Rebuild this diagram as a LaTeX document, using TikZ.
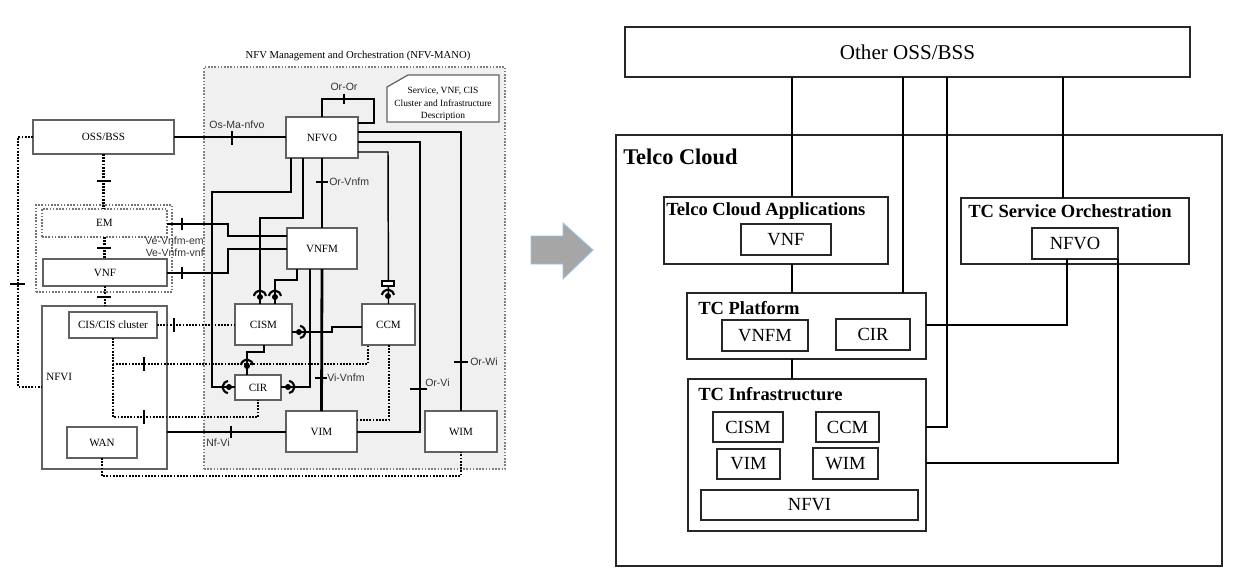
\documentclass[tikz,border=0pt]{standalone}
\usepackage{fontspec}
\setmainfont{Liberation Serif}
\newfontfamily\sansf{Liberation Sans}
\definecolor{arrowfill}{HTML}{A6A6A6}
\definecolor{arrowedge}{HTML}{9DC3E6}
\newcommand\mybox[7]{%
  \pgfmathsetmacro\mycx{(#3+#5)/2}\pgfmathsetmacro\mycy{(#4+#6)/2}%
  \pgfmathsetmacro\myww{(#5-#3)*0.75}\pgfmathsetmacro\myhh{(#6-#4)*0.75}%
  \node[#1, minimum width=\myww pt, minimum height=\myhh pt] (#2) at (\mycx,\mycy) {#7};}
\begin{document}
\begin{tikzpicture}[x=0.75pt,y=-0.75pt,
  lb/.style={draw=black!62, line width=0.9pt, fill=white, inner sep=0pt, outer sep=0pt, font=\fontsize{8.3}{9}\selectfont},
  ldash/.style={draw=black!55, line width=0.8pt, dash pattern=on 1.2pt off 1.2pt, inner sep=0pt, outer sep=0pt, font=\fontsize{8.3}{9}\selectfont},
  manobg/.style={draw=black!50, fill=black!6, line width=0.8pt, dash pattern=on 1.2pt off 1.2pt, inner sep=0pt, outer sep=0pt},
  thk/.style={line width=2.1pt},
  thn/.style={line width=1.1pt},
  dtd/.style={line width=1.8pt, dash pattern=on 1.3pt off 1.1pt},
  tck/.style={line width=0.9pt},
  lab/.style={font=\sansf\fontsize{7.9}{9}\selectfont, inner sep=0pt, text=black!80},
  rb/.style={draw=black!85, line width=1.4pt, fill=white, inner sep=0pt, outer sep=0pt, font=\fontsize{13.9}{16}\selectfont},
  rt/.style={font=\bfseries\fontsize{13.9}{16}\selectfont, inner sep=0pt, anchor=west},
  rl/.style={line width=1.5pt},
  sock/.pic={\fill (0,0) circle[radius=3];
    \draw[line width=1.6pt] (#1-80:6.2) arc[start angle=#1-80, end angle=#1+80, radius=6.2];}
]
\useasboundingbox (0,0) rectangle (1238,579);

% ================= LEFT DIAGRAM =================
\mybox{manobg}{mano}{204}{67}{505}{469}{}
\node[font=\fontsize{8}{9}\selectfont, inner sep=0pt] (manot) at (358,56) {NFV Management and Orchestration (NFV-MANO)};

\mybox{lb}{oss}{33}{120}{174}{154}{OSS/BSS}
\mybox{lb}{nfvo}{286}{117}{358}{158}{NFVO}
\mybox{lb}{vnfm}{287}{228}{357}{269}{VNFM}
\mybox{lb}{cism}{235}{304}{292}{345}{CISM}
\mybox{lb}{ccm}{362}{304}{415}{345}{CCM}
\mybox{lb}{cir}{235}{375}{281}{400}{CIR}
\mybox{lb}{vim}{286}{411}{357}{452}{VIM}
\mybox{lb}{wim}{425}{411}{497}{452}{WIM}

\mybox{ldash}{vnfgrp}{36}{205}{172}{292}{}
\mybox{ldash}{em}{42}{209}{167}{237}{EM}
\mybox{lb}{vnf}{43}{259}{167}{286}{VNF}
\mybox{lb, fill=none}{nfvi}{42}{306}{167}{469}{}
\node[font=\fontsize{8.3}{9}\selectfont, inner sep=0pt, anchor=west] (nfvil) at (46,377) {NFVI};
\mybox{lb}{cis}{69}{312}{157}{338}{CIS/CIS cluster}
\mybox{lb}{wan}{67}{427}{137}{458}{WAN}

% description box
\filldraw[draw=black!62, fill=white, line width=0.9pt] (387,87) -- (408,75) -- (499,75) -- (499,122) -- (387,122) -- cycle;
\node[font=\fontsize{7.1}{9.4}\selectfont, align=center, inner sep=0pt] (desc) at (443,104) {Service, VNF, CIS\\Cluster and Infrastructure\\Description};

% OSS/BSS - NFVO
\draw[thk] (oss.east) -- (nfvo.west |- oss.east);
\draw[tck] (232,131) -- (232,145);
\node[lab] (osma) at (237,125) {Os-Ma-nfvo};

% Or-Or loop
\draw[thk] (nfvo.north) -- (322,99) -- (374,99) -- (374,123) -- (nfvo.east |- 0,123);
\draw[tck] (344,94) -- (344,104);
\node[lab] (oror) at (344,87) {Or-Or};

% Or-Wi
\draw[thk] (nfvo.east |- 0,132) -- (461,132) -- (wim.north);
\draw[tck] (454,362) -- (468,362);
\node[lab, anchor=west] (orwi) at (470,362) {Or-Wi};

% Or-Vi
\draw[thk] (nfvo.east |- 0,142) -- (420,142) -- (420,432) -- (vim.east |- 0,432);
\draw[tck] (410,389) -- (427,389);
\node[lab, anchor=west] (orvi) at (425,383) {Or-Vi};

% NFVO - CCM
\draw[thn] (nfvo.east |- 0,152) -- (388,152) -- (ccm.north);
\filldraw[draw=black, fill=white, line width=0.8pt] (382,281) rectangle (394,286);
\pic at (388,296) {sock=270};

% Or-Vnfm
\draw[thk] (nfvo.south) -- (vnfm.north);
\draw[tck] (316,182) -- (328,182);
\node[lab, anchor=west] (orvnfm) at (329,182) {Or-Vnfm};

% NFVO - CIR (left)
\draw[thn] (nfvo.south -| 291,0) -- (291,192) -- (212,192) -- (212,387) -- (cir.west |- 0,387);
\pic at (229,387) {sock=180};

% NFVO - CISM
\draw[thn] (nfvo.south -| 303,0) -- (303,218) -- (260,218) -- (cism.north -| 260,0);
\pic at (260,297) {sock=270};

% VNFM - CISM
\draw[thn] (vnfm.south -| 297,0) -- (297,280) -- (275,280) -- (cism.north -| 275,0);
\pic at (275,297) {sock=270};

% VNFM - CIR (right)
\draw[thn] (vnfm.south -| 310,0) -- (310,387) -- (cir.east |- 0,387);
\pic at (288,387) {sock=0};

% Vi-Vnfm
\draw[thk] (vnfm.south) -- (vim.north);
\draw[tck] (315,378) -- (327,378);
\node[lab, anchor=west] (vivnfm) at (327,378) {Vi-Vnfm};

% CISM - CCM
\draw[thn] (cism.east |- 0,332) -- (332,332) -- (332,327) -- (ccm.west |- 0,327);
\pic at (299,332) {sock=0};

% CISM - CIR
\draw[thn] (cism.south -| 264,0) -- (264,352) -- (247,352) -- (cir.north -| 247,0);

% EM / VNF - VNFM
\draw[thk] (em.east |- 0,224) -- (228,224) -- (228,236) -- (vnfm.west |- 0,236);
\draw[thk] (vnf.east |- 0,273) -- (228,273) -- (228,249) -- (vnfm.west |- 0,249);
\draw[tck] (182,218) -- (182,230);
\draw[tck] (182,267) -- (182,279);
\node[lab, anchor=east] (vevem) at (204,241) {Ve-Vnfm-em};
\node[lab, anchor=east] (vevvnf) at (204,253) {Ve-Vnfm-vnf};

% dotted reference points
\draw[dtd] (oss.south) -- (oss.south |- em.north);
\draw[tck] (97,181) -- (111,181);
\draw[dtd] (em.south) -- (em.south |- vnf.north);
\draw[tck] (97,248) -- (111,248);
\draw[dtd] (vnf.south) -- (vnf.south |- nfvi.north);
\draw[tck] (97,297) -- (111,297);

\draw[dtd] (oss.west) -- (18,137) -- (18,387) -- (nfvi.west |- 0,387);
\draw[tck] (10,284) -- (25,284);

\draw[dtd] (cis.east) -- (cism.west |- cis.east);
\draw[tck] (174,318) -- (174,332);

\draw[dtd] (cis.south) -- (113,364) -- (368,364) -- (ccm.south -| 368,0);
\draw[tck] (144,357) -- (144,371);
\draw[dtd] (113,364) -- (113,417) -- (258,417) -- (cir.south);
\draw[tck] (144,410) -- (144,424);
\pic at (247,366) {sock=270};

\draw[dtd] (ccm.south -| 389,0) -- (389,420) -- (vim.east |- 0,420);

\draw[dtd] (wan.south) -- (wan.south |- 0,476) -- (wim.south |- 0,476) -- (wim.south);

% Nf-Vi
\draw[line width=1.4pt] (nfvi.east |- 0,432) -- (vim.west |- 0,432);
\draw[tck] (231,426) -- (231,438);
\node[lab] (nfvil2) at (218,443) {Nf-Vi};

% ================= ARROW =================
\filldraw[fill=arrowfill, draw=arrowedge, line width=0.7pt]
  (531,236) -- (563,236) -- (563,223) -- (593,250) -- (563,279) -- (563,264) -- (531,264) -- cycle;

% ================= RIGHT DIAGRAM =================
\mybox{rb, font=\fontsize{15.8}{18}\selectfont}{oth}{625}{27}{1190}{77}{Other OSS/BSS}
\mybox{rb, fill=none}{tc}{616}{135}{1222}{566}{}
\node[font=\bfseries\fontsize{16.8}{19}\selectfont, inner sep=0pt, anchor=west] (tcl) at (623,157) {Telco Cloud};

\mybox{rb}{tca}{664}{197}{888}{264}{}
\node[rt] (tcat) at (666,211) {Telco Cloud Applications};
\mybox{rb}{rvnf}{741}{224}{831}{255}{VNF}

\mybox{rb}{tcso}{961}{198}{1189}{264}{}
\node[rt] (tcsot) at (968,211) {TC Service Orchestration};
\mybox{rb}{rnfvo}{1032}{228}{1118}{259}{NFVO}

\mybox{rb}{tcp}{687}{293}{926}{359}{}
\node[rt] (tcpt) at (698,308) {TC Platform};
\mybox{rb}{rvnfm}{722}{320}{808}{351}{VNFM}
\mybox{rb}{rcir}{836}{319}{910}{350}{CIR}

\mybox{rb}{tci}{688}{379}{926}{531}{}
\node[rt] (tcit) at (698,394) {TC Infrastructure};
\mybox{rb}{rcism}{713}{412}{783}{442}{CISM}
\mybox{rb}{rccm}{816}{412}{879}{442}{CCM}
\mybox{rb}{rvim}{717}{449}{780}{479}{VIM}
\mybox{rb}{rwim}{813}{448}{878}{479}{WIM}
\mybox{rb}{rnfvi}{701}{490}{918}{520}{NFVI}

\draw[rl] (oth.south -| 792,0) -- (tca.north -| 792,0);
\draw[rl] (oth.south -| 903,0) -- (tcp.north -| 903,0);
\draw[rl] (oth.south -| 947,0) -- (947,427) -- (tci.east |- 0,427);
\draw[rl] (oth.south -| 1063,0) -- (tcso.north -| 1063,0);
\draw[rl] (tca.south -| 792,0) -- (tcp.north -| 792,0);
\draw[rl] (tcp.south -| 792,0) -- (tci.north -| 792,0);
\draw[rl] (rnfvo.south -| 1067,0) -- (1067,325) -- (tcp.east |- 0,325);
\draw[rl] (rnfvo.south east) -- (1118,463) -- (tci.east |- 0,463);
\end{tikzpicture}
\end{document}
